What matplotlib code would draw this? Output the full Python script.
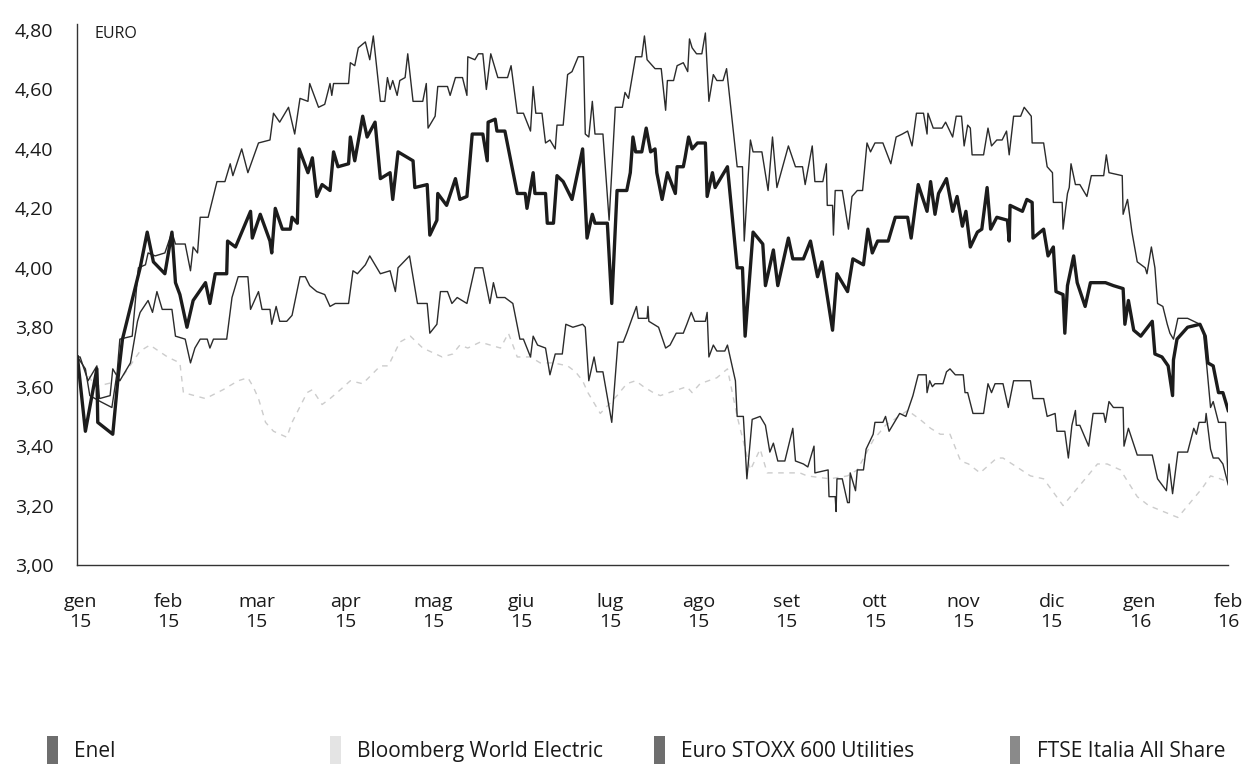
import numpy as np
import matplotlib.pyplot as plt
from matplotlib.patches import Rectangle
from matplotlib.ticker import FuncFormatter

plt.rcParams['font.family'] = ['Open Sans', 'DejaVu Sans']

# x = months since start of Jan 2015 (0 = gen 15, 13 = feb 16)
month_labels = ['gen\n15', 'feb\n15', 'mar\n15', 'apr\n15', 'mag\n15', 'giu\n15', 'lug\n15',
                'ago\n15', 'set\n15', 'ott\n15', 'nov\n15', 'dic\n15', 'gen\n16', 'feb\n16']
y_ticks = [3.0, 3.2, 3.4, 3.6, 3.8, 4.0, 4.2, 4.4, 4.6, 4.8]

enel_m = [-0.03, 0.06, 0.19, 0.20, 0.37, 0.43, 0.48, 0.68, 0.76, 0.83, 0.96, 1.04, 1.08, 1.13, 1.21,
          1.28, 1.42, 1.47, 1.53, 1.66, 1.67, 1.76, 1.93, 1.95, 2.04, 2.15, 2.17, 2.21, 2.29, 2.38,
          2.40, 2.46, 2.48, 2.58, 2.63, 2.68, 2.74, 2.83, 2.87, 2.92, 3.04, 3.06, 3.11, 3.20, 3.25,
          3.34, 3.40, 3.51, 3.54, 3.60, 3.77, 3.79, 3.93, 3.96, 4.04, 4.05, 4.15, 4.25, 4.30, 4.38,
          4.44, 4.56, 4.61, 4.62, 4.70, 4.72, 4.81, 4.95, 5.04, 5.06, 5.13, 5.15, 5.27, 5.29, 5.36,
          5.40, 5.47, 5.57, 5.69, 5.74, 5.80, 5.83, 5.97, 6.02, 6.08, 6.19, 6.23, 6.26, 6.29, 6.36,
          6.41, 6.46, 6.51, 6.53, 6.59, 6.65, 6.74, 6.76, 6.83, 6.85, 6.89, 6.93, 6.99, 7.08, 7.10,
          7.16, 7.19, 7.33, 7.44, 7.50, 7.53, 7.62, 7.73, 7.76, 7.85, 7.90, 8.02, 8.07, 8.19, 8.27,
          8.35, 8.40, 8.52, 8.57, 8.69, 8.75, 8.87, 8.92, 8.97, 9.03, 9.15, 9.23, 9.37, 9.41, 9.49,
          9.59, 9.63, 9.68, 9.72, 9.81, 9.88, 9.93, 9.99, 10.03, 10.08, 10.16, 10.21, 10.27, 10.31,
          10.38, 10.50, 10.52, 10.53, 10.67, 10.72, 10.78, 10.79, 10.91, 10.96, 11.02, 11.05, 11.13,
          11.15, 11.18, 11.25, 11.29, 11.38, 11.44, 11.61, 11.70, 11.81, 11.83, 11.87, 11.93, 12.01,
          12.14, 12.17, 12.25, 12.32, 12.37, 12.38, 12.42, 12.54, 12.68, 12.74, 12.77, 12.83, 12.89,
          12.94, 13.00]
enel_v = [3.70, 3.45, 3.66, 3.48, 3.44, 3.63, 3.76, 4.00, 4.12, 4.02, 3.98, 4.12, 3.95, 3.91, 3.80,
          3.89, 3.95, 3.88, 3.98, 3.98, 4.09, 4.07, 4.19, 4.10, 4.18, 4.09, 4.05, 4.20, 4.13, 4.13,
          4.17, 4.15, 4.40, 4.32, 4.37, 4.24, 4.28, 4.26, 4.39, 4.34, 4.35, 4.44, 4.36, 4.51, 4.44,
          4.49, 4.30, 4.32, 4.23, 4.39, 4.36, 4.27, 4.28, 4.11, 4.16, 4.25, 4.21, 4.30, 4.23, 4.24,
          4.45, 4.45, 4.36, 4.49, 4.50, 4.46, 4.46, 4.25, 4.25, 4.20, 4.32, 4.25, 4.25, 4.15, 4.15,
          4.31, 4.29, 4.23, 4.40, 4.10, 4.18, 4.15, 4.15, 3.88, 4.26, 4.26, 4.32, 4.44, 4.39, 4.39,
          4.47, 4.39, 4.40, 4.32, 4.23, 4.32, 4.25, 4.34, 4.34, 4.37, 4.44, 4.40, 4.42, 4.42, 4.24,
          4.32, 4.27, 4.34, 4.00, 4.00, 3.77, 4.12, 4.08, 3.94, 4.06, 3.94, 4.10, 4.03, 4.03, 4.09,
          3.97, 4.02, 3.79, 3.98, 3.92, 4.03, 4.01, 4.13, 4.05, 4.09, 4.09, 4.17, 4.17, 4.10, 4.28,
          4.19, 4.29, 4.18, 4.25, 4.30, 4.19, 4.24, 4.14, 4.19, 4.07, 4.12, 4.13, 4.27, 4.13,
          4.17, 4.16, 4.09, 4.21, 4.19, 4.23, 4.22, 4.10, 4.13, 4.04, 4.07, 3.92, 3.91,
          3.78, 3.94, 4.04, 3.95, 3.87, 3.95, 3.95, 3.94, 3.93, 3.81, 3.89, 3.79, 3.77,
          3.82, 3.71, 3.70, 3.67, 3.57, 3.69, 3.76, 3.80, 3.81, 3.77, 3.68, 3.67, 3.58,
          3.58, 3.52]

ftse_m = [-0.03, 0.06, 0.11, 0.23, 0.36, 0.42, 0.45, 0.59, 0.66, 0.74, 0.77, 0.85, 0.96, 1.04, 1.08,
          1.19, 1.25, 1.28, 1.33, 1.36, 1.45, 1.55, 1.64, 1.70, 1.73, 1.83, 1.90, 2.02, 2.15, 2.19,
          2.26, 2.36, 2.43, 2.49, 2.58, 2.60, 2.70, 2.77, 2.83, 2.85, 2.87, 3.04, 3.06, 3.11, 3.15,
          3.23, 3.28, 3.32, 3.40, 3.45, 3.48, 3.51, 3.54, 3.59, 3.62, 3.68, 3.71, 3.77, 3.88, 3.92,
          3.94, 4.02, 4.05, 4.16, 4.19, 4.25, 4.33, 4.38, 4.39, 4.47, 4.51, 4.56, 4.60, 4.65, 4.73,
          4.84, 4.88, 4.95, 5.02, 5.10, 5.13, 5.16, 5.23, 5.27, 5.32, 5.38, 5.40, 5.47, 5.52, 5.57,
          5.64, 5.70, 5.72, 5.76, 5.80, 5.83, 5.92, 5.99, 6.06, 6.14, 6.17, 6.21, 6.29, 6.36, 6.39,
          6.42, 6.51, 6.58, 6.63, 6.65, 6.72, 6.76, 6.83, 6.88, 6.90, 6.93, 6.98, 7.04, 7.08, 7.12,
          7.17, 7.21, 7.28, 7.32, 7.44, 7.50, 7.52, 7.59, 7.62, 7.72, 7.79, 7.84, 7.89, 8.02, 8.10,
          8.18, 8.21, 8.29, 8.32, 8.41, 8.45, 8.46, 8.52, 8.53, 8.55, 8.63, 8.70, 8.74, 8.80, 8.86,
          8.91, 8.95, 9.00, 9.09, 9.18, 9.24, 9.31, 9.37, 9.42, 9.47, 9.55, 9.59, 9.60, 9.66, 9.76,
          9.80, 9.88, 9.92, 9.98, 10.01, 10.05, 10.08, 10.10, 10.23, 10.28, 10.32, 10.38, 10.44,
          10.49, 10.52, 10.57, 10.65, 10.69, 10.77, 10.78, 10.91, 10.95, 11.01, 11.02, 11.12, 11.13,
          11.18, 11.20, 11.22, 11.27, 11.32, 11.40, 11.45, 11.59, 11.62, 11.65, 11.80, 11.81, 11.86,
          11.91, 11.97, 12.06, 12.08, 12.13, 12.17, 12.20, 12.26, 12.31, 12.34, 12.38, 12.43, 12.54,
          12.68, 12.72, 12.76, 12.80, 12.83, 12.89, 12.97, 13.00]
ftse_v = [3.70, 3.66, 3.57, 3.55, 3.53, 3.65, 3.76, 3.77, 4.00, 4.01, 4.05, 4.04, 4.05, 4.12, 4.08,
          4.08, 3.99, 4.07, 4.05, 4.17, 4.17, 4.29, 4.29, 4.35, 4.31, 4.40, 4.32, 4.42, 4.43, 4.52,
          4.49, 4.54, 4.45, 4.57, 4.56, 4.62, 4.54, 4.55, 4.62, 4.58, 4.62, 4.62, 4.69, 4.68, 4.74,
          4.76, 4.70, 4.78, 4.56, 4.56, 4.64, 4.60, 4.63, 4.58, 4.63, 4.64, 4.72, 4.56, 4.56, 4.62,
          4.47, 4.51, 4.61, 4.61, 4.58, 4.64, 4.64, 4.58, 4.71, 4.70, 4.72, 4.72, 4.60, 4.72, 4.64,
          4.64, 4.68, 4.52, 4.52, 4.46, 4.61, 4.52, 4.52, 4.42, 4.43, 4.40, 4.48, 4.48, 4.65, 4.66,
          4.71, 4.71, 4.45, 4.44, 4.56, 4.45, 4.45, 4.16, 4.54, 4.54, 4.59, 4.57, 4.71, 4.71, 4.78,
          4.70, 4.67, 4.67, 4.53, 4.63, 4.63, 4.68, 4.69, 4.66, 4.77, 4.74, 4.72, 4.72, 4.79, 4.56,
          4.65, 4.63, 4.63, 4.67, 4.34, 4.34, 4.09, 4.43, 4.39, 4.39, 4.26, 4.44, 4.27, 4.41, 4.34,
          4.34, 4.28, 4.41, 4.29, 4.29, 4.35, 4.21, 4.21, 4.11, 4.26, 4.26, 4.13, 4.24, 4.26, 4.26,
          4.42, 4.39, 4.42, 4.42, 4.35, 4.44, 4.45, 4.46, 4.41, 4.52, 4.52, 4.45, 4.52, 4.47, 4.47,
          4.49, 4.44, 4.51, 4.51, 4.41, 4.48, 4.47, 4.38, 4.38, 4.47, 4.41, 4.43, 4.43,
          4.46, 4.38, 4.51, 4.51, 4.54, 4.51, 4.42, 4.42, 4.34, 4.32, 4.22, 4.22, 4.13,
          4.25, 4.27, 4.35, 4.28, 4.28, 4.24, 4.31, 4.31, 4.38, 4.32, 4.31, 4.18, 4.23,
          4.12, 4.02, 4.00, 3.98, 4.07, 4.00, 3.88, 3.87, 3.81, 3.78, 3.76, 3.83, 3.83,
          3.81, 3.78, 3.66, 3.53, 3.55, 3.48, 3.48, 3.28]

stoxx_m = [-0.03, 0.00, 0.09, 0.19, 0.22, 0.34, 0.37, 0.45, 0.57, 0.65, 0.68, 0.77, 0.82, 0.87, 0.93,
           1.04, 1.08, 1.19, 1.25, 1.30, 1.36, 1.44, 1.47, 1.51, 1.66, 1.72, 1.79, 1.90, 1.93, 2.02,
           2.06, 2.15, 2.17, 2.22, 2.26, 2.34, 2.40, 2.49, 2.55, 2.60, 2.68, 2.77, 2.83, 2.89, 3.04,
           3.09, 3.14, 3.23, 3.28, 3.32, 3.40, 3.51, 3.57, 3.60, 3.73, 3.82, 3.93, 3.96, 4.04, 4.08,
           4.16, 4.21, 4.27, 4.38, 4.47, 4.56, 4.64, 4.68, 4.72, 4.81, 4.90, 4.98, 5.02, 5.10, 5.13,
           5.18, 5.27, 5.32, 5.38, 5.46, 5.50, 5.58, 5.69, 5.72, 5.76, 5.82, 5.85, 5.92, 6.02, 6.09,
           6.15, 6.19, 6.25, 6.30, 6.32, 6.42, 6.43, 6.44, 6.55, 6.63, 6.68, 6.75, 6.83, 6.87, 6.92,
           6.96, 7.08, 7.10, 7.12, 7.17, 7.21, 7.30, 7.33, 7.42, 7.44, 7.51, 7.55, 7.61, 7.70, 7.76,
           7.81, 7.85, 7.90, 7.98, 8.07, 8.10, 8.19, 8.24, 8.31, 8.32, 8.47, 8.48, 8.55, 8.56, 8.57,
           8.63, 8.69, 8.71, 8.72, 8.78, 8.80, 8.87, 8.90, 8.98, 9.00, 9.09, 9.12, 9.16, 9.28, 9.35,
           9.43, 9.49, 9.58, 9.59, 9.62, 9.65, 9.68, 9.77, 9.81, 9.85, 9.91, 10.00, 10.02, 10.05,
           10.11, 10.23, 10.28, 10.32, 10.36, 10.45, 10.51, 10.57, 10.67, 10.76, 10.79, 10.91, 10.95,
           11.04, 11.06, 11.15, 11.19, 11.23, 11.27, 11.28, 11.32, 11.42, 11.47, 11.59, 11.61, 11.65,
           11.70, 11.81, 11.82, 11.87, 11.97, 12.14, 12.20, 12.30, 12.33, 12.37, 12.43, 12.54, 12.61,
           12.64, 12.67, 12.74, 12.75, 12.80, 12.83, 12.89, 12.94, 13.00]
stoxx_v = [3.70, 3.70, 3.62, 3.67, 3.56, 3.57, 3.66, 3.62, 3.68, 3.82, 3.85, 3.89, 3.85, 3.92, 3.86,
           3.86, 3.77, 3.76, 3.68, 3.73, 3.76, 3.76, 3.73, 3.76, 3.76, 3.90, 3.97, 3.97, 3.86, 3.92,
           3.86, 3.86, 3.81, 3.87, 3.82, 3.82, 3.84, 3.97, 3.97, 3.94, 3.92, 3.91, 3.87, 3.88, 3.88,
           3.99, 3.98, 4.01, 4.04, 4.02, 3.98, 3.99, 3.92, 4.00, 4.04, 3.88, 3.88, 3.78, 3.81, 3.92,
           3.92, 3.88, 3.90, 3.88, 4.00, 4.00, 3.88, 3.95, 3.90, 3.90, 3.88, 3.76, 3.76, 3.70, 3.77,
           3.74, 3.73, 3.64, 3.71, 3.71, 3.81, 3.80, 3.81, 3.80, 3.62, 3.70, 3.65, 3.65, 3.48, 3.75,
           3.75, 3.78, 3.83, 3.87, 3.83, 3.83, 3.87, 3.82, 3.80, 3.73, 3.74, 3.78, 3.78, 3.81, 3.85,
           3.82, 3.82, 3.85, 3.70, 3.74, 3.72, 3.72, 3.74, 3.62, 3.50, 3.50, 3.29, 3.49, 3.50, 3.47,
           3.38, 3.41, 3.35, 3.35, 3.46, 3.35, 3.34, 3.33, 3.40, 3.31, 3.32, 3.23, 3.23, 3.18, 3.29,
           3.29, 3.21, 3.21, 3.31, 3.25, 3.32, 3.32, 3.39, 3.44, 3.48, 3.48, 3.50, 3.45, 3.51, 3.50,
           3.57, 3.64, 3.64, 3.58, 3.62, 3.60, 3.61, 3.61, 3.65, 3.66, 3.64, 3.64, 3.58, 3.58,
           3.51, 3.51, 3.61, 3.58, 3.61, 3.61, 3.53, 3.62, 3.62, 3.62, 3.56, 3.56, 3.50,
           3.51, 3.45, 3.45, 3.36, 3.47, 3.52, 3.47, 3.47, 3.40, 3.51, 3.51, 3.48, 3.55,
           3.53, 3.53, 3.40, 3.46, 3.37, 3.37, 3.29, 3.25, 3.34, 3.24, 3.38, 3.38, 3.46,
           3.44, 3.48, 3.48, 3.51, 3.39, 3.36, 3.36, 3.34, 3.27]

bloom_m = [-0.03, 0.17, 0.45, 0.68, 0.79, 0.99, 1.13, 1.17, 1.42, 1.62, 1.79, 1.90, 1.96, 2.02, 2.10,
           2.19, 2.34, 2.40, 2.57, 2.63, 2.74, 2.83, 2.91, 3.06, 3.20, 3.40, 3.49, 3.62, 3.74, 3.88,
           4.10, 4.22, 4.30, 4.39, 4.53, 4.76, 4.85, 4.95, 5.10, 5.21, 5.36, 5.52, 5.61, 5.69, 5.75,
           5.89, 6.08, 6.19, 6.29, 6.38, 6.49, 6.57, 6.87, 6.93, 7.02, 7.21, 7.33, 7.44, 7.59, 7.70,
           7.78, 8.15, 8.23, 8.49, 8.69, 8.80, 8.98, 9.12, 9.37, 9.51, 9.63, 9.74, 9.85, 9.97, 10.06,
           10.19, 10.38, 10.45, 10.76, 10.91, 11.13, 11.52, 11.63, 11.78, 11.97, 12.10, 12.43, 12.71,
           12.80, 12.91, 13.00]
bloom_v = [3.70, 3.60, 3.62, 3.72, 3.74, 3.70, 3.68, 3.58, 3.56, 3.59, 3.62, 3.63, 3.60, 3.56, 3.48,
           3.45, 3.43, 3.48, 3.58, 3.59, 3.54, 3.56, 3.58, 3.62, 3.61, 3.67, 3.67, 3.75, 3.77, 3.73,
           3.70, 3.71, 3.74, 3.73, 3.75, 3.73, 3.78, 3.70, 3.70, 3.68, 3.68, 3.67, 3.65, 3.62, 3.58,
           3.51, 3.57, 3.61, 3.62, 3.60, 3.58, 3.57, 3.60, 3.58, 3.61, 3.63, 3.66, 3.50, 3.32, 3.39,
           3.31, 3.31, 3.30, 3.29, 3.30, 3.32, 3.42, 3.47, 3.52, 3.49, 3.46, 3.44, 3.44, 3.35, 3.34,
           3.31, 3.36, 3.36, 3.30, 3.29, 3.20, 3.34, 3.34, 3.32, 3.23, 3.20, 3.16, 3.26,
           3.30, 3.29, 3.28]

series_names = ['Enel', 'Bloomberg World Electric', 'Euro STOXX 600 Utilities', 'FTSE Italia All Share']

fig = plt.figure(figsize=(12.52, 7.84), dpi=100)
ax = fig.add_axes([0.0615, 0.2793, 0.9195, 0.690])

ax.plot(bloom_m, bloom_v, color='#cccccc', lw=1.0, ls=(0, (4, 4)))
ax.plot(stoxx_m, stoxx_v, color='#2b2b2b', lw=1.0)
ax.plot(ftse_m, ftse_v, color='#2b2b2b', lw=1.0)
ax.plot(enel_m, enel_v, color='#1c1c1c', lw=2.4)

ax.set_xlim(-0.035, 13.0)
ax.set_ylim(3.0, 4.82)
ax.set_xticks(range(len(month_labels)))
ax.set_xticklabels(month_labels, linespacing=1.15)
ax.set_yticks(y_ticks)
ax.yaxis.set_major_formatter(FuncFormatter(lambda v, p: f'{v:.2f}'.replace('.', ',')))
ax.tick_params(axis='both', length=0, labelsize=14, colors='#1a1a1a')
ax.tick_params(axis='y', pad=17)
ax.tick_params(axis='x', pad=20)
for s in ['top', 'right']:
    ax.spines[s].set_visible(False)
for s in ['left', 'bottom']:
    ax.spines[s].set_linewidth(1.0)
    ax.spines[s].set_color('#333333')

ax.text(0.015, 0.996, 'EURO', transform=ax.transAxes, fontsize=11.5, va='top', ha='left',
        color='#1a1a1a')

# legend entries, one per series
patch_colors = ['#6e6e6e', '#e4e4e4', '#6e6e6e', '#8a8a8a']
legend_x = [0.031, 0.257, 0.516, 0.800]
for name, c, lx in zip(series_names, patch_colors, legend_x):
    h = Rectangle((0, 0), 1, 1, facecolor=c, edgecolor='none')
    leg = fig.legend([h], [name], loc='center left', bbox_to_anchor=(lx, 0.043), frameon=False,
                     fontsize=15, handlelength=0.5, handleheight=1.7, handletextpad=0.8,
                     borderaxespad=0)
    for t in leg.get_texts():
        t.set_color('#1a1a1a')

fig.savefig('out.png', dpi=100)
